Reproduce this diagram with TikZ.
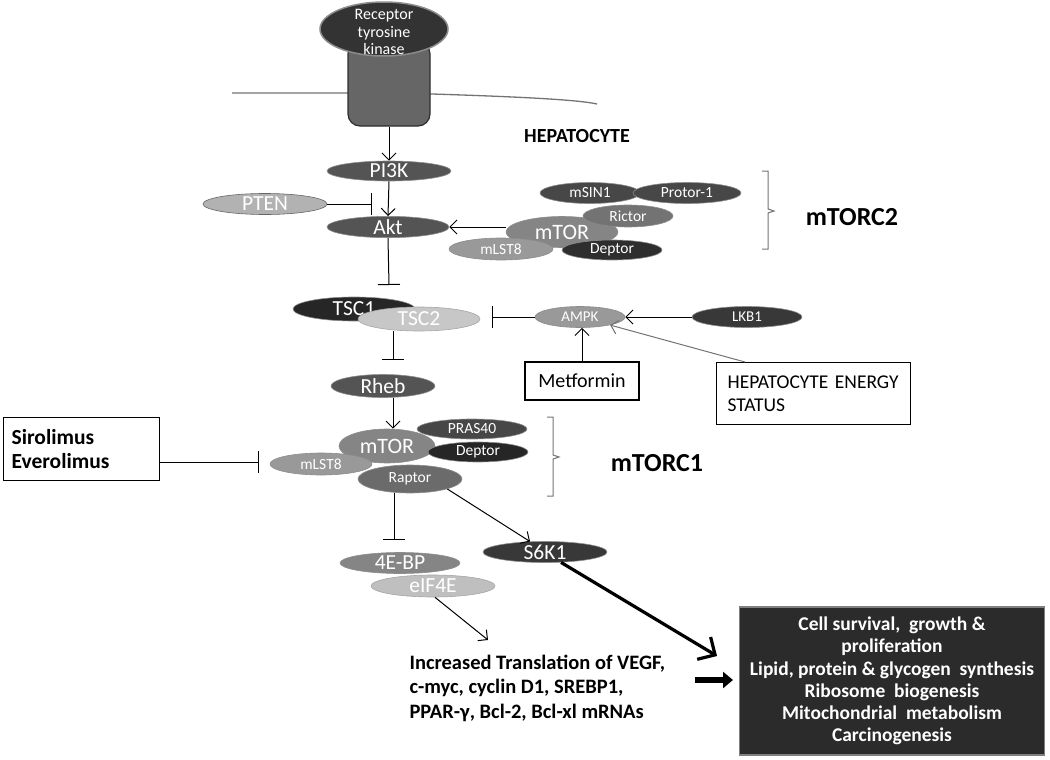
\documentclass[tikz,border=0pt]{standalone}
\usepackage{fontspec}
\setmainfont{Carlito}
\usetikzlibrary{arrows.meta,shapes.geometric}
\begin{document}
\begin{tikzpicture}[x=1pt,y=-1pt,
  prot/.style={ellipse,inner sep=0pt,text=white,draw=black!45,line width=0.6pt},
  bigf/.style={font=\fontsize{21.5}{23}\selectfont},
  smallf/.style={font=\fontsize{15.5}{17}\selectfont},
  arr/.style={-{Straight Barb[length=7pt,width=14pt]},line width=1pt},
  inh/.style={-{Bar[width=22pt]},line width=1pt},
  plainbox/.style={draw=black,line width=1.2pt,inner sep=0pt},
  bracketline/.style={draw=black!55,line width=1pt},
  cplx/.style={font=\fontsize{26}{28}\selectfont\bfseries}
]
\useasboundingbox (0,0) rectangle (1050,760);
% membrane
\draw[black!55,line width=1.3pt] (232,93) -- (400,93) .. controls (500,96) and (575,99) .. (597,104);
% receptor
\node[rectangle,rounded corners=12pt,minimum width=82,minimum height=84,fill=black!60,draw=black!82,line width=1.2pt] (rtk) at (389,84) {};
\node[ellipse,minimum width=128,minimum height=54,inner sep=0pt,fill=black!80,draw=black!45,line width=1.5pt] (rtktop) at (384,29) {};
\node[text=white,align=center,font=\fontsize{16}{17.5}\selectfont] (rtklabel) at (384,32) {Receptor\\tyrosine\\kinase};
\node[font=\fontsize{20}{22}\selectfont\bfseries] (hep) at (577,136) {HEPATOCYTE};
% PI3K / Akt
\node[prot,bigf,fill=black!67,minimum width=124,minimum height=20] (pi3k) at (389,171) {PI3K};
\node[prot,bigf,fill=black!30,draw=black!60,minimum width=124,minimum height=21] (pten) at (265,204) {PTEN};
\node[prot,bigf,fill=black!67,minimum width=122,minimum height=20] (akt) at (388,227) {Akt};
% mTORC2
\node[prot,font=\fontsize{22}{24}\selectfont,fill=black!48,minimum width=112,minimum height=31] (mtorb) at (562,232) {mTOR};
\node[prot,smallf,fill=black!55,minimum width=90,minimum height=22] (rictor) at (628,216) {Rictor};
\node[prot,smallf,fill=black!72,minimum width=100,minimum height=21] (msin) at (590,193) {mSIN1};
\node[prot,smallf,fill=black!72,minimum width=108,minimum height=21] (protor) at (687,193) {Protor-1};
\node[prot,smallf,fill=black!40,minimum width=104,minimum height=22] (mlstb) at (501,249) {mLST8};
\node[prot,smallf,fill=black!82,minimum width=100,minimum height=20] (deptorb) at (612,250) {Deptor};
\draw[bracketline] (762,171) -- (768,171) -- (768,209) -- (774,211) -- (768,213) -- (768,249) -- (762,249);
\node[cplx] (mtorc2) at (852,217) {mTORC2};
% TSC
\node[prot,bigf,fill=black!85,minimum width=122,minimum height=24] (tsc1) at (354,309) {TSC1};
\node[prot,bigf,fill=black!22,draw=black!35,minimum width=122,minimum height=24] (tsc2) at (419,319) {TSC2};
\node[prot,bigf,fill=black!67,minimum width=104,minimum height=23] (rheb) at (383,386) {Rheb};
% AMPK
\node[prot,font=\fontsize{15}{16}\selectfont,fill=black!40,minimum width=90,minimum height=21] (ampk) at (580,317) {AMPK};
\node[prot,font=\fontsize{15}{16}\selectfont,fill=black!78,minimum width=110,minimum height=21] (lkb1) at (747,317) {LKB1};
\node[plainbox,font=\fontsize{20}{22}\selectfont,minimum width=114,minimum height=38] (metf) at (582,381) {Metformin};
\node[plainbox,anchor=north west,font=\fontsize{19.5}{23}\selectfont,minimum width=194,minimum height=62,text width=172,align=left] (energy) at (716,362) {HEPATOCYTE ENERGY\\STATUS};
% mTORC1
\node[prot,font=\fontsize{22}{24}\selectfont,fill=black!48,minimum width=96,minimum height=34] (mtora) at (387,446) {mTOR};
\node[prot,smallf,fill=black!72,minimum width=110,minimum height=20] (pras) at (472,429) {PRAS40};
\node[prot,smallf,fill=black!85,minimum width=100,minimum height=20] (deptora) at (478,452) {Deptor};
\node[prot,smallf,fill=black!40,minimum width=102,minimum height=22] (mlsta) at (321,464) {mLST8};
\node[prot,smallf,fill=black!58,minimum width=104,minimum height=28] (raptor) at (410,479) {Raptor};
\draw[bracketline] (547,417) -- (553,417) -- (553,455) -- (559,457) -- (553,459) -- (553,496) -- (547,496);
\node[cplx] (mtorc1) at (657,463) {mTORC1};
\node[plainbox,anchor=north west,font=\fontsize{21.5}{24}\selectfont\bfseries,minimum width=156,minimum height=63,text width=140,align=left] (siro) at (3,417) {Sirolimus\\Everolimus};
% downstream
\node[prot,bigf,fill=black!78,minimum width=124,minimum height=21] (s6k1) at (545,552) {S6K1};
\node[prot,bigf,fill=black!48,minimum width=120,minimum height=21] (ebp) at (400,563) {4E-BP};
\node[prot,bigf,fill=black!25,draw=black!35,minimum width=124,minimum height=22] (eif) at (433,586) {eIF4E};
\node[anchor=west,align=left,font=\fontsize{20.5}{24.5}\selectfont\bfseries] (transl) at (406,688) {Increased Translation of VEGF,\\c-myc, cyclin D1, SREBP1,\\PPAR-γ, Bcl-2, Bcl-xl mRNAs};
\node[rectangle,fill=black!83,draw=black!50,line width=1.5pt,minimum width=305,minimum height=148,text=white,align=center,font=\fontsize{19.5}{22.3}\selectfont\bfseries] (result) at (892,681) {Cell survival,\ \ growth \&\\proliferation\\Lipid, protein \& glycogen\ \ synthesis\\Ribosome\ \ biogenesis\\Mitochondrial\ \ metabolism\\Carcinogenesis};
% coordinates
\coordinate (ptenbar) at (372,204);
\coordinate (aktbar) at (389,285);
\coordinate (tscbar) at (393,360);
\coordinate (ampkbar) at (492,317);
\coordinate (sirobar) at (259,462);
\coordinate (raptorbar) at (394,540);
\coordinate (transtip) at (488,640);
\coordinate (bigtip) at (717,656);
\coordinate (sa) at (695,680);
\coordinate (sb) at (733,680);
% connectors
\draw[arr] (rtk.south) -- (pi3k.north);
\draw[arr] (pi3k.south) -- (akt.north);
\draw[inh] (pten.east) -- (ptenbar);
\draw[arr] (mtorb.west |- akt) -- (akt.east);
\draw[inh] (akt.south) -- (aktbar);
\draw[inh] (tscbar |- tsc2.south) -- (tscbar);
\draw[inh] (ampk.west) -- (ampkbar);
\draw[arr] (lkb1.west) -- (ampk.east);
\draw[arr] (metf.north) -- (metf.north |- ampk.south);
\draw[arr,black!55] ([xshift=29pt]energy.north west) -- (ampk.-15);
\draw[arr] (tscbar |- rheb.south) -- (tscbar |- mtora.north);
\draw[inh] (siro.east |- sirobar) -- (sirobar);
\draw[inh] (raptorbar |- raptor.south) -- (raptorbar);
\draw[arr] (raptor.-15) -- (s6k1.145);
\draw[arr] (eif.-80) -- (transtip);
\draw[-{Straight Barb[length=13pt,width=26pt]},line width=3.2pt] (s6k1.-33) -- (bigtip);
\draw[-{Triangle[length=10pt,width=16pt]},line width=6pt] (sa) -- (sb);
\end{tikzpicture}
\end{document}
